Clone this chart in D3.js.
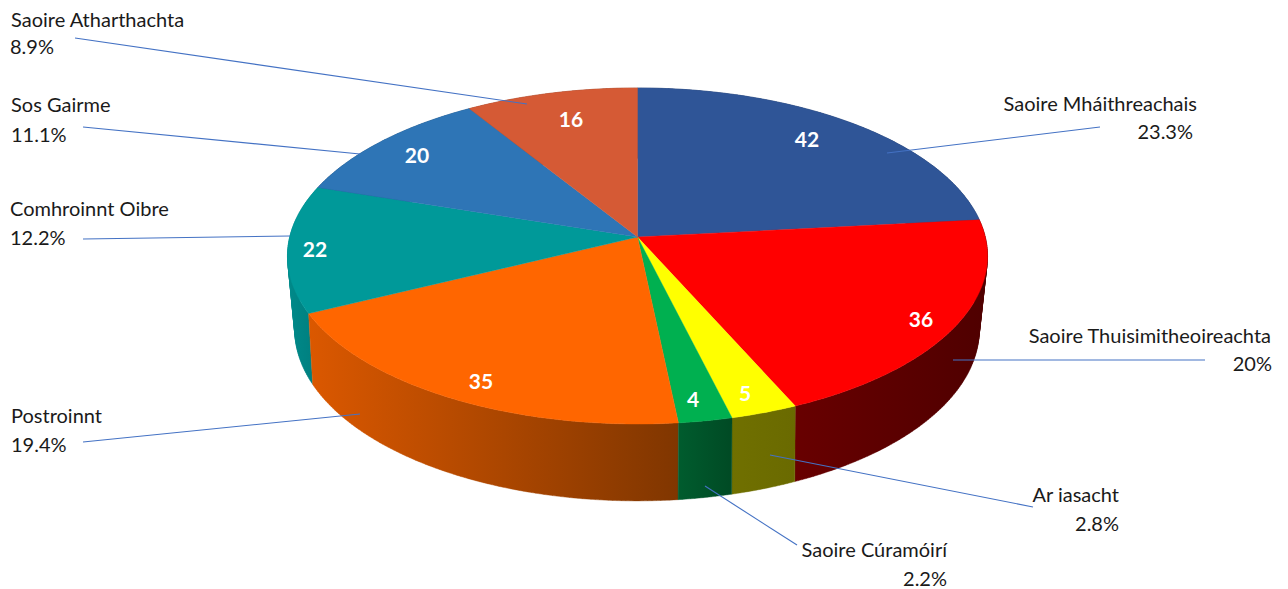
<!DOCTYPE html>
<html><head><meta charset="utf-8">
<script src="https://cdn.jsdelivr.net/npm/d3@7"></script>
<style>html,body{margin:0;background:#fff}svg{display:block}text{font-family:Lato,"Open Sans",sans-serif}</style>
</head><body><svg id="c" width="1288" height="589"></svg>
<script>
const categories=["Saoire Mháithreachais","Saoire Thuisimitheoireachta","Ar iasacht","Saoire Cúramóirí","Postroinnt","Comhroinnt Oibre","Sos Gairme","Saoire Atharthachta"];
const values=[42,36,5,4,35,22,20,16];
const percentLabels=["23.3%","20%","2.8%","2.2%","19.4%","12.2%","11.1%","8.9%"];
const topColors=["#2F5597","#FF0000","#FFFF00","#00B050","#FF6600","#009999","#2E75B6","#D55A35"];
const wallStart=["#1f3864","#680000","#707000","#005c2e","#DB5800","#008a8a","#1f4e79","#8a3a22"];
const wallEnd=["#1f3864","#4f0000","#6a6a00","#004a24","#803600","#007a7a","#1f4e79","#8a3a22"];
// layout (not data)
const valuePos=[[807,139],[921,319],[745,393],[693,399],[481,381],[315,249],[417,155],[571,119]];
const labelPos=[
 {x:1197,y:111,px:1193,py:139,a:"end"},{x:1271,y:343,px:1272,py:371,a:"end"},
 {x:1119,y:502,px:1119,py:531,a:"end"},{x:947,y:557,px:947,py:586,a:"end"},
 {x:11,y:423,px:11,py:452,a:"start"},{x:10,y:216,px:10,py:245,a:"start"},
 {x:11,y:112,px:11,py:142,a:"start"},{x:11,y:27,px:10,py:54,a:"start"}];
const leaders=[[[1100,127],[887,153]],[[1205,360],[953,360]],[[1033,507],[770,455]],[[797,545],[705,486]],
 [[83,442],[360,414]],[[83,239],[290,236]],[[83,127],[360,154]],[[75,38],[527,104]]];

const svg=d3.select("#c"),defs=svg.append("defs");
// perspective projection of the unit disc for the top and bottom faces
const proj=(P)=>(t)=>{const u=Math.sin(t),v=-Math.cos(t),w=1-P.k*v;return [P.cx+P.a*u/w,P.y+P.b*v/w];};
const topFace=proj({cx:637.5,a:347.8,b:165.9,k:0.113,y:237});
const botFace=proj({cx:637,a:339,b:168,k:0.138,y:306});
const arcs=d3.pie().sort(null).value(d=>d)(values);
const samples=(s,e)=>{const n=Math.max(4,Math.ceil((e-s)*90));return d3.range(n+1).map(i=>s+(e-s)*i/n);};
const line=d3.line();

// side walls, back to front: each wall is a run of thin quads so the silhouette is filled
const order=d3.range(arcs.length).sort((i,j)=>-Math.cos((arcs[i].startAngle+arcs[i].endAngle)/2)+Math.cos((arcs[j].startAngle+arcs[j].endAngle)/2));
const walls=svg.append("g");
order.forEach(i=>{
 const d=arcs[i],ts=samples(d.startAngle,d.endAngle);
 const tp=ts.map(topFace),bp=ts.map(botFace);
 const x=d3.extent(tp.concat(bp),p=>p[0]),id="w"+i;
 const g=defs.append("linearGradient").attr("id",id).attr("gradientUnits","userSpaceOnUse")
  .attr("x1",x[0]).attr("x2",x[1]).attr("y1",0).attr("y2",0);
 g.append("stop").attr("offset",0).attr("stop-color",wallStart[i]);
 g.append("stop").attr("offset",1).attr("stop-color",wallEnd[i]);
 let dstr="";
 for(let k=0;k<ts.length-1;k++){
  let q=[tp[k],tp[k+1],bp[k+1],bp[k]];
  if(d3.polygonArea(q)<0)q=q.reverse();
  dstr+=line(q)+"Z";
 }
 walls.append("path").attr("d",dstr).attr("fill",`url(#${id})`).attr("stroke",`url(#${id})`).attr("stroke-width",0.4);
});
// top face
const tops=svg.append("g");
arcs.forEach((d,i)=>{
 const pts=[[637.5,237]].concat(samples(d.startAngle,d.endAngle).map(topFace));
 tops.append("path").attr("d",line(pts)+"Z").attr("fill",topColors[i]).attr("stroke",topColors[i]).attr("stroke-width",0.4);
});
// leader lines
svg.append("g").selectAll("path").data(leaders).join("path").attr("d",d=>line(d))
 .attr("fill","none").attr("stroke","#4472C4").attr("stroke-width",1.1);
// value labels
svg.append("g").selectAll("text").data(values).join("text").text(d=>d)
 .attr("x",(d,i)=>valuePos[i][0]).attr("y",(d,i)=>valuePos[i][1]).attr("dy","0.36em")
 .attr("text-anchor","middle").attr("fill","#fff").attr("font-weight",700).attr("font-size",21);
// category labels
const lab=svg.append("g").attr("fill","#1a1a1a").attr("font-size",20);
categories.forEach((c,i)=>{
 const p=labelPos[i];
 lab.append("text").text(c).attr("x",p.x).attr("y",p.y).attr("text-anchor",p.a);
 lab.append("text").text(percentLabels[i]).attr("x",p.px).attr("y",p.py).attr("text-anchor",p.a);
});
</script></body></html>
